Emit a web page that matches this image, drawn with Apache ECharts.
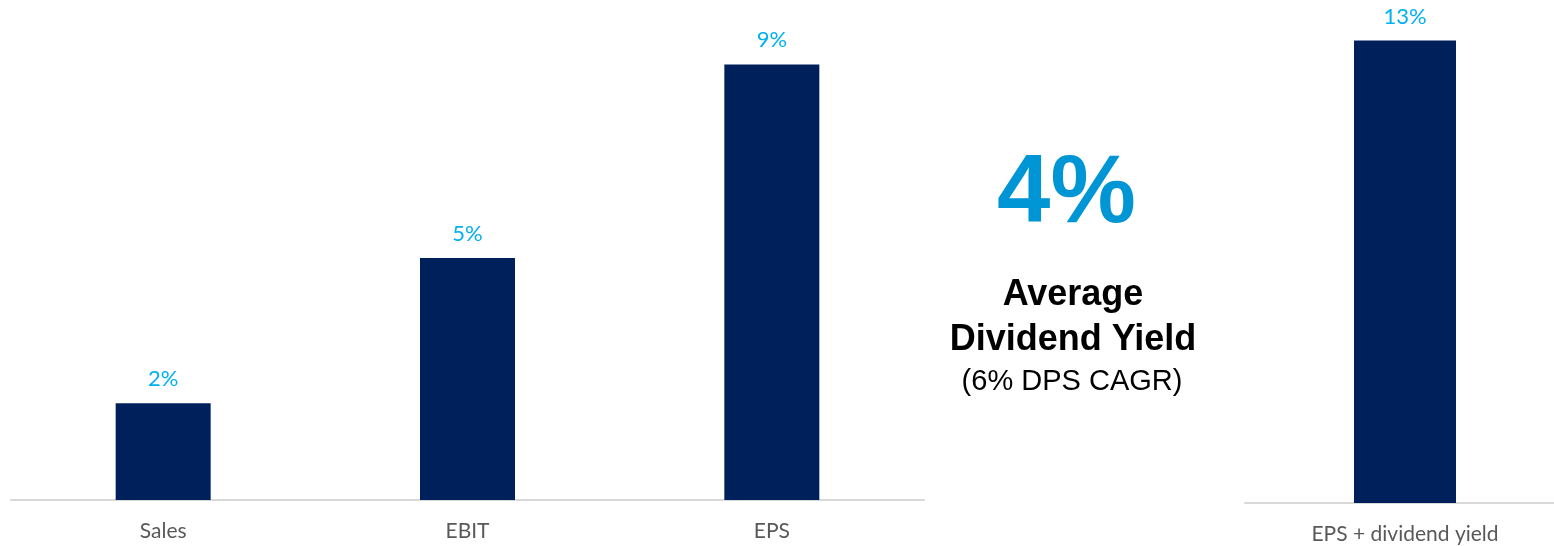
<!DOCTYPE html>
<html lang="en">
<head>
    <meta charset="UTF-8">
    <title>Growth and dividend yield</title>
    <style>
        html, body { margin: 0; padding: 0; background: #fff; overflow: hidden; }
    </style>
</head>
<body>
<!-- the right axis runs a little past the window edge, so the canvas is wider than the view -->
<div class="main" style="width: 1565px;height: 546px;"></div>
<script src="https://cdn.jsdelivr.net/npm/echarts@6/dist/echarts.min.js"></script>
<script>
    // left chart: growth per line item (%)
    var growthCats = ['Sales', 'EBIT', 'EPS'];
    var growthVals = [2, 5, 9];

    // right chart: total return
    var totalCats = ['EPS + dividend yield'];
    var totalVals = [13];

    // middle text block
    var yieldText = '4%';
    var yieldTitle = ['Average', 'Dividend Yield'];
    var yieldNote = '(6% DPS CAGR)';

    var barColor = '#00205B';
    var valColor = '#00B0F0';
    var catFont = 'Lato, "Open Sans", sans-serif';

    var main = document.querySelector('.main');
    var chart = echarts.init(main);

    function catAxis(idx, cats) {
        return {
            type: 'category',
            gridIndex: idx,
            data: cats,
            axisTick: { show: false },
            axisLine: { lineStyle: { color: '#D9D9D9', width: 2 } },
            axisLabel: { color: '#595959', fontSize: 21, fontFamily: catFont, margin: 21 }
        };
    }

    function valAxis(idx, max) {
        return {
            type: 'value',
            gridIndex: idx,
            min: 0,
            max: max,
            show: false,
            splitLine: { show: false }
        };
    }

    function barSeries(idx, vals, width) {
        return {
            type: 'bar',
            xAxisIndex: idx,
            yAxisIndex: idx,
            data: vals,
            barWidth: width,
            itemStyle: { color: barColor },
            label: {
                show: true,
                position: 'top',
                distance: 13,
                color: valColor,
                fontSize: 22,
                fontFamily: catFont,
                formatter: function (p) { return p.value + '%'; }
            }
        };
    }

    var option = {
        animation: false,
        grid: [
            { left: 11, right: 641, top: 16, bottom: 46 },
            { left: 1245, right: 0, top: 5, bottom: 43 }
        ],
        xAxis: [catAxis(0, growthCats), catAxis(1, totalCats)],
        yAxis: [valAxis(0, 10), valAxis(1, 14)],
        series: [barSeries(0, growthVals, 95), barSeries(1, totalVals, 102)],
        graphic: [
            {
                type: 'text',
                left: 1066 - 69, top: 148,
                style: {
                    text: yieldText,
                    fill: '#0096D6',
                    font: 'bold 96px "Liberation Sans", Arial, sans-serif'
                }
            },
            {
                type: 'text',
                x: 1073, y: 273,
                style: {
                    text: yieldTitle.join('\n'),
                    fill: '#000',
                    font: 'bold 36px "Liberation Sans", Arial, sans-serif',
                    align: 'center',
                    lineHeight: 45
                }
            },
            {
                type: 'text',
                x: 1072, y: 367,
                style: {
                    text: yieldNote,
                    fill: '#000',
                    font: '29px "Liberation Sans", Arial, sans-serif',
                    align: 'center'
                }
            }
        ]
    };
    chart.setOption(option);
</script>
</body>
</html>
